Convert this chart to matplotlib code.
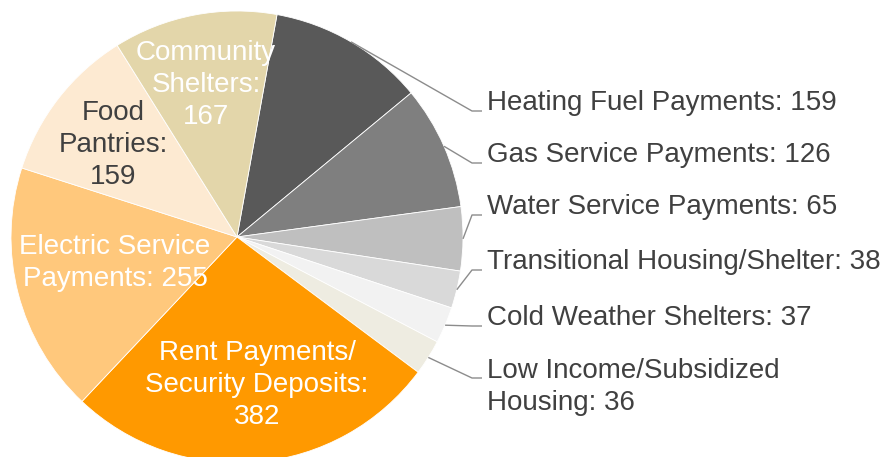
import numpy as np
import matplotlib
matplotlib.use("Agg")
import matplotlib.pyplot as plt

plt.rcParams['font.family'] = ['Liberation Sans', 'DejaVu Sans']

# slices, clockwise from just right of 12 o'clock
labels = ["Heating Fuel Payments", "Gas Service Payments", "Water Service Payments",
          "Transitional Housing/Shelter", "Cold Weather Shelters",
          "Low Income/Subsidized\nHousing", "Rent Payments/\nSecurity Deposits",
          "Electric Service\nPayments", "Food\nPantries", "Community\nShelters"]
values = [159, 126, 65, 38, 37, 36, 382, 255, 159, 167]
colors = ["#595959", "#7f7f7f", "#bfbfbf", "#d9d9d9", "#f2f2f2",
          "#eeece1", "#ff9900", "#ffc87c", "#fdead2", "#e3d6aa"]

W, H = 888, 457
CX, CY, R = 237, 237, 226          # pie centre / radius in pixels (y from top)
TXT = "#404040"
LINE = "#8c8c8c"

fig = plt.figure(figsize=(W / 100, H / 100), dpi=100)
ax = fig.add_axes([0, 0, 1, 1])

wedges, _ = ax.pie(values, colors=colors, startangle=90 - 10.2, counterclock=False,
                   radius=R, center=(CX, H - CY),
                   wedgeprops=dict(edgecolor="white", linewidth=0.6))
ax.set_xlim(0, W)
ax.set_ylim(0, H)
ax.set_aspect("equal")
ax.axis("off")


def edge_point(w):
    a = np.deg2rad((w.theta1 + w.theta2) / 2)
    return CX + R * np.cos(a), (H - CY) + R * np.sin(a)


# outside labels with leader lines (first six slices)
line_y = [111, 163, 215, 270, 326, 378]     # leader baseline, pixels from top
for i, ly in enumerate(line_y):
    x0, y0 = edge_point(wedges[i])
    ax.plot([x0, 472, 482], [y0, H - ly, H - ly], color=LINE, lw=1.0,
            solid_capstyle="butt", zorder=1)
    txt = f"{labels[i]}: {values[i]}"
    nl = txt.count("\n")
    ax.text(487, H - (ly - 8 + nl * 16.5), txt, ha="left", va="center",
            fontsize=20, color=TXT, linespacing=1.3)

# inside labels: (slice index, colour, centre x, centre y from top)
inside = [(6, "white", 257, 385), (7, "white", 115, 263),
          (8, TXT, 113, 145), (9, "white", 206, 85)]
for i, col, x, y in inside:
    sep = " " if i == 7 else "\n"
    ax.text(x, H - y, f"{labels[i]}:{sep}{values[i]}", ha="center", va="center",
            fontsize=20, color=col, linespacing=1.3)

fig.savefig("out.png", dpi=100)
